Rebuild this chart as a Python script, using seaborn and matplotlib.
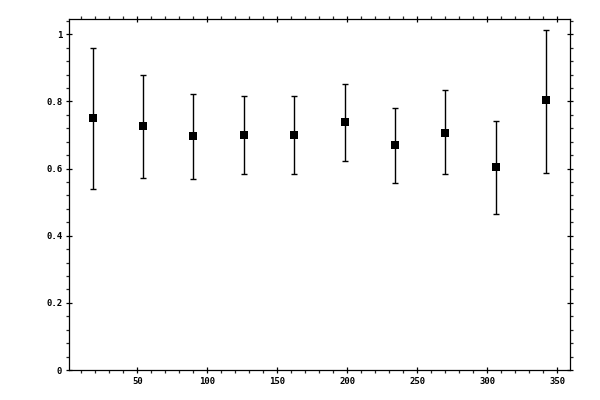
import numpy as np
import pandas as pd
import matplotlib
matplotlib.use("Agg")
import matplotlib.pyplot as plt
import seaborn as sns
from matplotlib.ticker import MultipleLocator, FixedLocator

angle = [18, 54, 90, 126, 162, 198, 234, 270, 306, 342]
value = [0.752, 0.728, 0.696, 0.701, 0.701, 0.740, 0.669, 0.707, 0.606, 0.803]
upper = [0.960, 0.879, 0.823, 0.817, 0.817, 0.853, 0.781, 0.835, 0.743, 1.014]
lower = [0.540, 0.573, 0.570, 0.585, 0.585, 0.624, 0.556, 0.583, 0.466, 0.588]

x_ticks = [50, 100, 150, 200, 250, 300, 350]
y_ticks = [0, 0.2, 0.4, 0.6, 0.8, 1.0]
y_labels = ["0", "0.2", "0.4", "0.6", "0.8", "1"]

df = pd.DataFrame({"angle": angle, "value": value, "upper": upper, "lower": lower})

sns.set_style("ticks")
plt.rcParams["font.family"] = ["DejaVu Sans Mono"]

fig = plt.figure(figsize=(6, 4), dpi=100)
ax = fig.add_axes([0.1155, 0.075, 0.835, 0.877])

yerr = np.vstack([df["value"] - df["lower"], df["upper"] - df["value"]])
ax.errorbar(df["angle"], df["value"], yerr=yerr, fmt="none", ecolor="black",
            elinewidth=1.0, capsize=2.4, capthick=1.0, zorder=2)
sns.scatterplot(data=df, x="angle", y="value", marker="s", s=30, color="black",
                edgecolor="black", linewidth=0, ax=ax, zorder=3)

ax.set_xlim(1.4, 359.3)
ax.set_ylim(0, 1.045)
ax.set_xlabel("")
ax.set_ylabel("")

ax.xaxis.set_major_locator(FixedLocator(x_ticks))
ax.xaxis.set_minor_locator(MultipleLocator(10))
ax.set_yticks(y_ticks)
ax.set_yticklabels(y_labels)
ax.yaxis.set_minor_locator(MultipleLocator(0.04))

for side in ["top", "right", "bottom", "left"]:
    ax.spines[side].set_visible(True)
    ax.spines[side].set_linewidth(0.9)
    ax.spines[side].set_color("black")

ax.tick_params(which="major", direction="inout", length=5, width=0.9,
               top=True, right=True, labelsize=6.5, pad=2.5, colors="black")
ax.tick_params(which="minor", direction="out", length=2.2, width=0.9,
               top=True, right=True)
for lab in ax.get_xticklabels() + ax.get_yticklabels():
    lab.set_fontweight("bold")

plt.savefig("out.png", dpi=100)
plt.close()
